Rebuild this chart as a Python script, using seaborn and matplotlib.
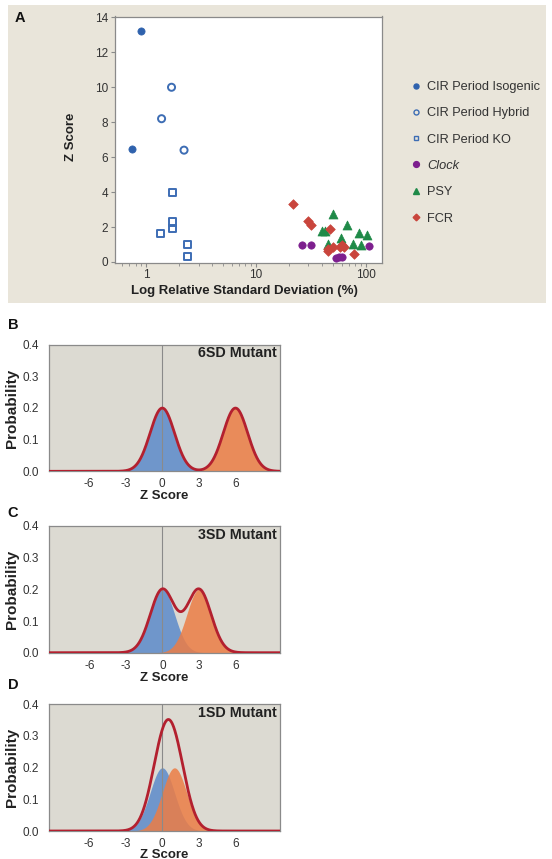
import numpy as np
import matplotlib
matplotlib.use("Agg")
import matplotlib.pyplot as plt
import seaborn as sns
from matplotlib.lines import Line2D
from matplotlib.patches import Rectangle

sns.set_theme(style="white")
plt.rcParams['font.family'] = ['Liberation Sans', 'DejaVu Sans']

# ---------------- Panel A: Z score vs log relative SD ----------------
iso_rsd = [0.89, 0.74]
iso_z = [13.2, 6.45]
hyb_rsd = [1.70, 1.38, 2.21]
hyb_z = [10.0, 8.2, 6.4]
ko_rsd = [1.72, 1.75, 1.75, 1.34, 2.38, 2.38]
ko_z = [3.99, 2.29, 1.89, 1.63, 1.0, 0.29]
clock_rsd = [26.4, 31.9, 53.2, 57.0, 60.4, 105.9]
clock_z = [0.98, 0.98, 0.23, 0.29, 0.29, 0.91]
psy_rsd = [49.7, 66.6, 39.4, 42.5, 85.8, 101.5, 59.1, 45.3, 75.6, 90.0]
psy_z = [2.77, 2.14, 1.76, 1.80, 1.68, 1.57, 1.37, 1.05, 1.05, 1.0]
fcr_rsd = [21.7, 29.4, 31.5, 47.2, 44.7, 49.7, 45.5, 58.3, 63.4, 60.0, 77.2]
fcr_z = [3.3, 2.35, 2.14, 1.91, 0.77, 0.86, 0.62, 0.86, 0.86, 1.0, 0.46]

group_labels = ["CIR Period Isogenic", "CIR Period Hybrid", "CIR Period KO",
                "Clock", "PSY", "FCR"]
rsd_ticks = [1, 10, 100]
z_score_ticks = [0, 2, 4, 6, 8, 10, 12, 14]

# ---------------- Panels B-D: mixture of wild type and mutant ----------------
mutant_shift = [6, 3, 1]
mutant_titles = ["6SD Mutant", "3SD Mutant", "1SD Mutant"]
panel_letters = ["B", "C", "D"]
z_ticks = [-6, -3, 0, 3, 6]
p_ticks = [0.0, 0.1, 0.2, 0.3, 0.4]

W, H = 552, 859
fig = plt.figure(figsize=(W / 100, H / 100), dpi=100)
fig.patch.set_facecolor("white")


def fbox(left, top, right, bottom):
    return [left / W, 1 - bottom / H, (right - left) / W, (bottom - top) / H]


# Beige panel behind A
fig.patches.append(Rectangle((8 / W, 1 - 303 / H), (546 - 8) / W, (303 - 5) / H,
                             transform=fig.transFigure, facecolor="#e9e5da",
                             edgecolor="none", zorder=-10))

axA = fig.add_axes(fbox(115, 16.5, 382, 262.5))
axA.set_zorder(2)
axA.set_facecolor("white")

c_blue = "#2f62ad"
c_blue_open = "#3d6db4"
c_clock = "#7d1f8e"
c_psy = "#1f8a48"
c_fcr = "#c9453c"

sns.scatterplot(x=iso_rsd, y=iso_z, ax=axA, marker="o", s=27, color=c_blue,
                edgecolor=c_blue, linewidth=0.5, zorder=3)
sns.scatterplot(x=hyb_rsd, y=hyb_z, ax=axA, marker="o", s=26, color=c_blue_open,
                facecolor="none", edgecolor=c_blue_open, linewidth=1.4, zorder=3)
sns.scatterplot(x=ko_rsd, y=ko_z, ax=axA, marker="s", s=26, color=c_blue_open,
                facecolor="none", edgecolor=c_blue_open, linewidth=1.4, zorder=3)
sns.scatterplot(x=clock_rsd, y=clock_z, ax=axA, marker="o", s=28, color=c_clock,
                edgecolor=c_clock, linewidth=0.5, zorder=3)
sns.scatterplot(x=psy_rsd, y=psy_z, ax=axA, marker="^", s=42, color=c_psy,
                edgecolor=c_psy, linewidth=0.5, zorder=3)
sns.scatterplot(x=fcr_rsd, y=fcr_z, ax=axA, marker="D", s=24, color=c_fcr,
                edgecolor=c_fcr, linewidth=0.5, zorder=3)

axA.set_xscale("log")
axA.set_xlim(0.52, 140)
axA.set_ylim(-0.03, 14.05)
axA.set_xticks(rsd_ticks)
axA.set_xticklabels([str(t) for t in rsd_ticks])
axA.set_yticks(z_score_ticks)
for sp in axA.spines.values():
    sp.set_color("#8a8a8a")
    sp.set_linewidth(0.9)
axA.tick_params(axis="both", which="major", direction="out", length=3, width=0.8,
                color="#8a8a8a", labelsize=8.5, labelcolor="#333333", pad=2,
                bottom=True, left=True)
axA.tick_params(axis="x", which="minor", direction="out", length=2, width=0.6,
                color="#8a8a8a", bottom=True)
axA.set_xlabel("Log Relative Standard Deviation (%)", fontsize=9.5,
               fontweight="bold", color="#222222")
axA.set_ylabel("Z Score", fontsize=9.5, fontweight="bold", color="#222222")
axA.xaxis.set_label_coords(0.485, -0.09)
axA.yaxis.set_label_coords(-0.142, 0.51)

handles = [
    Line2D([], [], ls="none", marker="o", ms=3.6, mfc=c_blue, mec=c_blue),
    Line2D([], [], ls="none", marker="o", ms=3.6, mfc="none", mec=c_blue_open, mew=1.0),
    Line2D([], [], ls="none", marker="s", ms=3.4, mfc="none", mec=c_blue_open, mew=1.0),
    Line2D([], [], ls="none", marker="o", ms=4.2, mfc=c_clock, mec=c_clock),
    Line2D([], [], ls="none", marker="^", ms=4.4, mfc=c_psy, mec=c_psy),
    Line2D([], [], ls="none", marker="D", ms=3.4, mfc=c_fcr, mec=c_fcr),
]
leg = fig.legend(handles, group_labels, loc="upper left",
                 bbox_to_anchor=(411 / W, 1 - 81 / H), bbox_transform=fig.transFigure,
                 frameon=False, fontsize=9.2, handlelength=0.8, handletextpad=0.45,
                 labelspacing=1.12, borderpad=0, borderaxespad=0)
for t in leg.get_texts():
    t.set_color("#333333")
leg.get_texts()[3].set_fontstyle("italic")

fig.text(20 / W, 1 - 18 / H, "A", fontsize=10.5, fontweight="bold",
         ha="center", va="center", color="#111111")

# ---------------- Panels B-D ----------------
panel_boxes = [(48.5, 344.5, 280, 471.3), (48.8, 526, 280, 652.7),
               (48.5, 704.3, 280, 831)]
letter_pos = [(13, 325), (13, 513), (13, 685)]
zlabel_y = [-0.15, -0.15, -0.14]

fill_blue = "#6f96cb"
fill_orange = "#ec7d45"
line_red = "#b3202f"
bg_panel = "#dcdad2"

z_lo, z_hi = -9.33, 9.65
z = np.linspace(z_lo, z_hi, 800)


def normal_pdf(x, mu, sd=1.0):
    return np.exp(-0.5 * ((x - mu) / sd) ** 2) / (sd * np.sqrt(2 * np.pi))


for i, shift in enumerate(mutant_shift):
    ax = fig.add_axes(fbox(*panel_boxes[i]))
    ax.set_facecolor(bg_panel)
    wild = 0.5 * normal_pdf(z, 0.0)
    mutant = 0.5 * normal_pdf(z, shift)
    total = wild + mutant

    ax.fill_between(z, 0, wild, color=fill_blue, lw=0, zorder=1)
    ax.fill_between(z, 0, mutant, color=fill_orange, alpha=0.85, lw=0, zorder=2)
    ax.axvline(0, color="#8a8a8a", lw=0.8, zorder=3)
    sns.lineplot(x=z, y=total, ax=ax, color=line_red, lw=2.0, zorder=4)

    ax.set_xlim(z_lo, z_hi)
    ax.set_ylim(0, 0.4)
    ax.set_xticks(z_ticks)
    ax.set_xticklabels([str(t) for t in z_ticks])
    ax.set_yticks(p_ticks)
    ax.set_yticklabels([f"{t:.1f}" for t in p_ticks])
    ax.tick_params(axis="both", length=0, labelsize=8.5, labelcolor="#333333")
    ax.tick_params(axis="y", pad=7)
    ax.tick_params(axis="x", pad=5)
    for sp in ax.spines.values():
        sp.set_color("#8a8a8a")
        sp.set_linewidth(0.9)
    ax.set_xlabel("Z Score", fontsize=9.5, fontweight="bold", color="#222222")
    ax.set_ylabel("Probability", fontsize=11, fontweight="bold", color="#222222")
    ax.xaxis.set_label_coords(0.5, zlabel_y[i])
    ax.yaxis.set_label_coords(-0.128, 0.5)
    ax.text(0.985, 0.93, mutant_titles[i], transform=ax.transAxes, ha="right",
            va="center", fontsize=10.3, fontweight="bold", color="#222222", zorder=5)
    lx, ly = letter_pos[i]
    fig.text(lx / W, 1 - ly / H, panel_letters[i], fontsize=10.5, fontweight="bold",
             ha="center", va="center", color="#111111")

fig.savefig("out.png", dpi=100)
